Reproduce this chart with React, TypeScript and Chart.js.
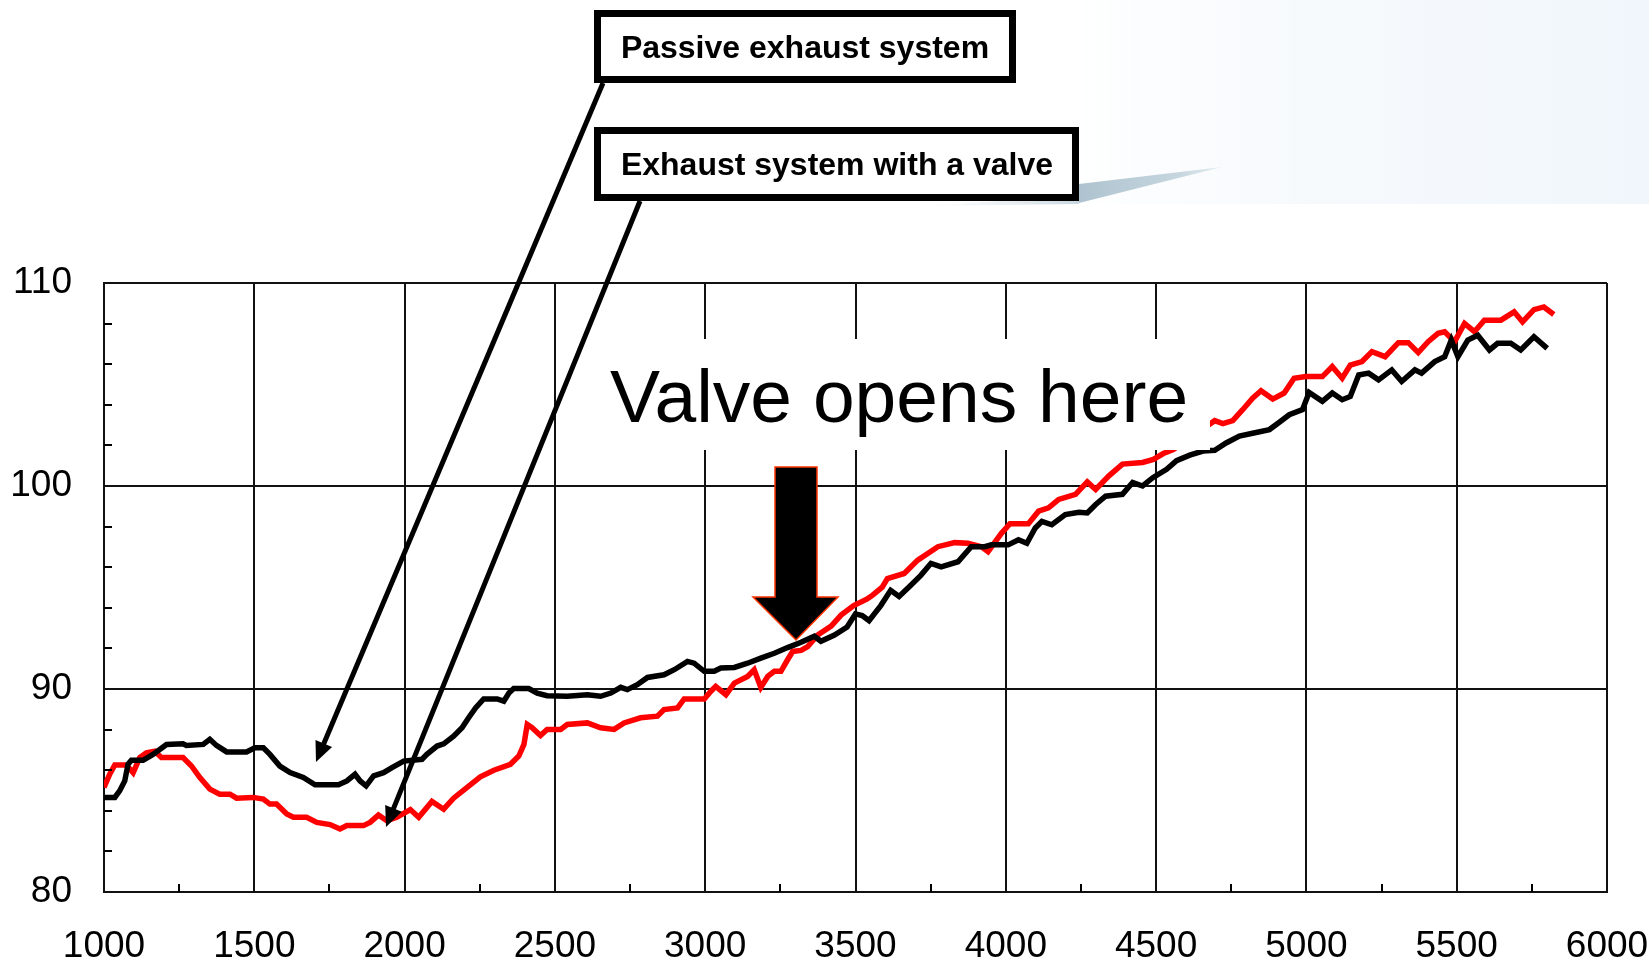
import React, { useEffect, useRef } from 'react';
import { Chart, registerables } from 'chart.js';

Chart.register(...registerables);

const FONT = '"Liberation Sans", Arial, Helvetica, sans-serif';

// ---------- data ----------
const xMajorTicks = [1000, 1500, 2000, 2500, 3000, 3500, 4000, 4500, 5000, 5500, 6000];
const yMajorTicks = [80, 90, 100, 110];

const seriesNames = ['Passive exhaust system', 'Exhaust system with a valve'];
const calloutText = 'Valve opens here';

const passiveRpm = [1000,1036,1052,1069,1080,1091,1130,1163,1208,1263,1274,1330,1352,1374,1408,1474,1502,1530,1552,1585,1619,1663,1702,1780,1808,1835,1852,1872,1897,1930,1958,1997,2058,2074,2108,2130,2163,2191,2213,2236,2263,2308,2330,2347,2363,2413,2441,2474,2541,2608,2652,2686,2719,2741,2774,2808,2863,2897,2941,2963,2997,3030,3052,3097,3141,3185,3230,3274,3319,3363,3385,3430,3472,3500,3522,3545,3584,3617,3645,3684,3718,3751,3785,3841,3885,3930,3952,4008,4042,4070,4098,4120,4153,4198,4243,4271,4299,4332,4388,4422,4455,4489,4535,4568,4612,4656,4695,4733,4777,4821,4877,4910,4943,4987,5009,5053,5086,5119,5146,5174,5207,5240,5284,5317,5361,5383,5427,5460,5482,5504,5537,5570,5609,5636,5680,5713,5757,5801];
const passiveHp = [84.66,84.66,84.98,85.47,86.29,86.49,86.49,86.78,87.27,87.3,87.22,87.27,87.52,87.22,86.9,86.9,87.1,87.1,86.78,86.2,85.88,85.64,85.28,85.28,85.47,85.8,85.47,85.23,85.72,85.88,86.13,86.45,86.54,86.78,87.19,87.3,87.68,88.09,88.58,89.07,89.51,89.51,89.4,89.8,90.02,90.02,89.8,89.67,89.64,89.72,89.64,89.8,90.08,89.97,90.21,90.57,90.7,90.95,91.36,91.27,90.87,90.87,91.03,91.06,91.27,91.52,91.76,92.04,92.3,92.6,92.35,92.66,93.05,93.7,93.62,93.37,94.11,94.86,94.56,95.11,95.61,96.19,96.02,96.27,97.01,97.01,97.1,97.1,97.35,97.18,97.93,98.26,98.09,98.59,98.71,98.67,99.09,99.5,99.59,100.17,100.0,100.41,100.82,101.25,101.52,101.72,101.76,102.12,102.46,102.6,102.78,103.14,103.51,103.76,104.61,104.17,104.58,104.25,104.41,105.47,105.56,105.23,105.72,105.15,105.72,105.56,106.13,106.37,107.19,106.37,107.19,107.43,106.7,107.03,107.03,106.7,107.35,106.78];

const valveRpm = [1000,1019,1036,1074,1097,1119,1141,1169,1191,1263,1291,1319,1352,1385,1419,1441,1496,1530,1552,1574,1608,1630,1674,1708,1752,1785,1808,1863,1885,1913,1941,1974,2019,2047,2091,2130,2163,2208,2252,2297,2352,2380,2397,2408,2424,2452,2474,2519,2541,2608,2652,2697,2730,2785,2841,2863,2908,2930,2997,3019,3035,3069,3097,3141,3163,3185,3208,3230,3252,3274,3291,3319,3341,3374,3419,3452,3494,3539,3556,3589,3606,3662,3707,3774,3830,3874,3919,3941,3986,4014,4075,4109,4142,4176,4232,4271,4299,4343,4388,4455,4491,4524,4557,4695,4722,4755,4788,4821,4849,4888,4926,4959,4998,5053,5086,5119,5146,5185,5218,5262,5306,5339,5372,5405,5438,5460,5493,5526,5559,5592,5647,5691,5719,5757,5790,5823];
const valveHp = [85.15,85.8,86.26,86.26,85.88,86.62,86.86,86.94,86.62,86.62,86.21,85.64,85.07,84.82,84.82,84.62,84.66,84.58,84.33,84.33,83.84,83.68,83.68,83.43,83.32,83.1,83.27,83.27,83.43,83.79,83.51,83.68,84.06,83.68,84.46,84.08,84.62,85.15,85.67,86.0,86.29,86.7,87.27,88.25,88.09,87.71,88.01,88.01,88.25,88.33,88.09,88.01,88.33,88.58,88.66,88.99,89.07,89.51,89.51,89.89,90.13,89.72,90.29,90.62,90.95,90.08,90.62,90.87,90.87,91.44,91.85,91.9,92.09,92.66,93.1,93.64,94.11,94.44,94.61,95.02,95.44,95.69,96.35,97.01,97.21,97.18,97.01,96.77,97.68,98.14,98.14,98.76,98.92,99.34,99.59,100.2,99.83,100.5,101.08,101.16,101.31,101.6,101.8,103.22,103.07,103.22,103.76,104.33,104.69,104.28,104.58,105.31,105.39,105.39,105.88,105.31,105.96,106.13,106.62,106.37,107.06,107.06,106.57,107.11,107.52,107.6,107.11,108.01,107.6,108.17,108.17,108.58,108.09,108.69,108.82,108.45];

// ---------- plugins ----------
const minorTickPlugin = {
  id: 'minorTicks',
  afterDatasetsDraw(chart: any) {
    const { ctx, chartArea, scales } = chart;
    const xs = scales.x;
    const ys = scales.y;
    ctx.save();
    ctx.strokeStyle = '#000';
    ctx.lineWidth = 2;
    ctx.beginPath();
    xs.ticks.forEach((t: any) => {
      if (!xMajorTicks.includes(t.value)) {
        const px = Math.round(xs.getPixelForValue(t.value));
        ctx.moveTo(px, chartArea.bottom);
        ctx.lineTo(px, chartArea.bottom - 8);
      }
    });
    ys.ticks.forEach((t: any) => {
      if (!yMajorTicks.includes(t.value)) {
        const py = Math.round(ys.getPixelForValue(t.value));
        ctx.moveTo(chartArea.left, py);
        ctx.lineTo(chartArea.left + 8, py);
      }
    });
    ctx.stroke();
    ctx.restore();
  },
};

function head(tipX: number, tipY: number, fromX: number, fromY: number, len: number, half: number) {
  const dx = tipX - fromX;
  const dy = tipY - fromY;
  const L = Math.hypot(dx, dy);
  const ux = dx / L;
  const uy = dy / L;
  const bx = tipX - ux * len;
  const by = tipY - uy * len;
  const px = -uy;
  const py = ux;
  return {
    points: `${tipX},${tipY} ${bx + px * half},${by + py * half} ${bx - px * half},${by - py * half}`,
    bx: tipX - ux * (len - 2),
    by: tipY - uy * (len - 2),
  };
}

export default function App() {
  const canvasRef = useRef<HTMLCanvasElement | null>(null);

  useEffect(() => {
    const canvas = canvasRef.current;
    if (!canvas) return;
    const chart = new Chart(canvas, {
      type: 'line',
      data: {
        datasets: [
          {
            label: seriesNames[0],
            data: passiveRpm.map((r, i) => ({ x: r, y: passiveHp[i] })),
            borderColor: '#000000',
            backgroundColor: '#000000',
            borderWidth: 5.5,
            pointRadius: 0,
            tension: 0,
            fill: false,
          },
          {
            label: seriesNames[1],
            data: valveRpm.map((r, i) => ({ x: r, y: valveHp[i] })),
            borderColor: '#ff0000',
            backgroundColor: '#ff0000',
            borderWidth: 5.5,
            pointRadius: 0,
            tension: 0,
            fill: false,
          },
        ],
      },
      options: {
        animation: false,
        responsive: false,
        maintainAspectRatio: false,
        devicePixelRatio: 1,
        layout: { padding: { top: 283, right: 0, left: 0, bottom: 0 } },
        plugins: {
          legend: { display: false },
          tooltip: { enabled: false },
          title: { display: false },
        },
        scales: {
          x: {
            type: 'linear',
            min: 1000,
            max: 6000,
            afterFit(scale: any) {
              scale.height = 73;
              scale.paddingLeft = 0;
              scale.paddingRight = 42;
            },
            ticks: {
              stepSize: 250,
              autoSkip: false,
              maxRotation: 0,
              minRotation: 0,
              padding: 33,
              color: '#000',
              font: { family: FONT, size: 37 },
              callback: (v: any) => (xMajorTicks.includes(Number(v)) ? String(v) : ''),
            },
            grid: {
              drawTicks: false,
              lineWidth: 2,
              color: (ctx: any) => (ctx.tick && xMajorTicks.includes(ctx.tick.value) ? '#111' : 'rgba(0,0,0,0)'),
            },
            border: { display: true, color: '#111', width: 2 },
          },
          y: {
            type: 'linear',
            min: 80,
            max: 110,
            afterFit(scale: any) {
              scale.width = 104;
            },
            ticks: {
              stepSize: 2,
              autoSkip: false,
              padding: 32,
              color: '#000',
              font: { family: FONT, size: 37 },
              callback: (v: any) => (yMajorTicks.includes(Number(v)) ? String(v) : ''),
            },
            grid: {
              drawTicks: false,
              lineWidth: 2,
              color: (ctx: any) => (ctx.tick && yMajorTicks.includes(ctx.tick.value) ? '#111' : 'rgba(0,0,0,0)'),
            },
            border: { display: true, color: '#111', width: 2 },
          },
        },
      },
      plugins: [minorTickPlugin],
    } as any);
    return () => {
      chart.destroy();
    };
  }, []);

  const h1 = head(316, 762, 603, 83, 20, 9);
  const h2 = head(386, 827, 640, 201, 20, 9);

  return (
    <div
      style={{
        position: 'absolute',
        left: 0,
        top: 0,
        width: 1649,
        height: 965,
        background: '#ffffff',
        overflow: 'hidden',
      }}
    >
      <canvas
        ref={canvasRef}
        width={1649}
        height={965}
        style={{ position: 'absolute', left: 0, top: 0, width: 1649, height: 965 }}
      />
      <svg
        width={1649}
        height={965}
        style={{ position: 'absolute', left: 0, top: 0, pointerEvents: 'none' }}
      >
        <defs>
          <linearGradient id="sky" x1="0" y1="0" x2="1" y2="0">
            <stop offset="0" stopColor="#f5f9fc" stopOpacity="0" />
            <stop offset="0.4" stopColor="#f7fafd" stopOpacity="1" />
            <stop offset="1" stopColor="#f0f6fb" stopOpacity="1" />
          </linearGradient>
          <linearGradient id="streak" x1="0" y1="0" x2="1" y2="0">
            <stop offset="0" stopColor="#aec3cf" />
            <stop offset="0.7" stopColor="#c6d6df" />
            <stop offset="1" stopColor="#e6eef3" />
          </linearGradient>
          <linearGradient id="shade" x1="0" y1="0" x2="1" y2="0">
            <stop offset="0" stopColor="#e8eef2" stopOpacity="0" />
            <stop offset="1" stopColor="#c9d7df" stopOpacity="1" />
          </linearGradient>
        </defs>
        <rect x={1060} y={0} width={589} height={204} fill="url(#sky)" />
        <polygon points="920,206 1079,196 1079,204" fill="url(#shade)" />
        <polygon points="1079,184 1222,167 1079,203" fill="url(#streak)" />

        {/* Valve opens here label with white background */}
        <rect x={600} y={339} width={610} height={111} fill="#ffffff" />
        <text x={610} y={422} fontFamily={FONT} fontSize={75} fill="#000">
          {calloutText}
        </text>

        {/* big down arrow */}
        <polygon
          points="775,467 817,467 817,597 838,597 796,640 753,597 775,597"
          fill="#000"
          stroke="#ff3300"
          strokeWidth={1.5}
        />

        {/* callout lines */}
        <line x1={603} y1={83} x2={h1.bx} y2={h1.by} stroke="#000" strokeWidth={5} />
        <polygon points={h1.points} fill="#000" />
        <line x1={640} y1={201} x2={h2.bx} y2={h2.by} stroke="#000" strokeWidth={5} />
        <polygon points={h2.points} fill="#000" />

        {/* boxes */}
        <rect x={597.5} y={13.5} width={415} height={66} fill="#fff" stroke="#000" strokeWidth={7} />
        <text x={805} y={58} textAnchor="middle" fontFamily={FONT} fontWeight="bold" fontSize={32} fill="#000">
          {seriesNames[0]}
        </text>
        <rect x={597.5} y={130.5} width={478} height={67} fill="#fff" stroke="#000" strokeWidth={7} />
        <text x={837} y={175} textAnchor="middle" fontFamily={FONT} fontWeight="bold" fontSize={32} fill="#000">
          {seriesNames[1]}
        </text>
      </svg>
    </div>
  );
}
